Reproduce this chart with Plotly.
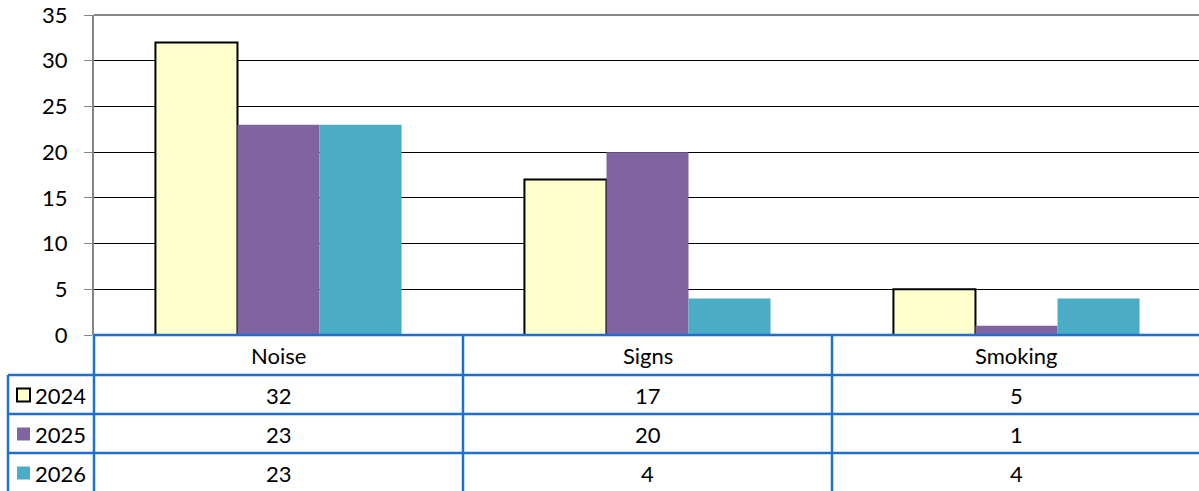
import plotly.graph_objects as go

categories = ["Noise", "Signs", "Smoking"]
series_names = ["2024", "2025", "2026"]
values_2024 = [32, 17, 5]
values_2025 = [23, 20, 1]
values_2026 = [23, 4, 4]
y_ticks = [0, 5, 10, 15, 20, 25, 30, 35]

series_values = [values_2024, values_2025, values_2026]
fill_colors = ["#FFFFCC", "#8064A2", "#4BACC6"]
line_colors = ["#000000", "#8064A2", "#4BACC6"]
line_widths = [2, 0, 0]

W, H = 1199, 491
L, T, B_PX = 94, 15, 335
plot_w = W - L
plot_h = B_PX - T
FONT = "Lato"
FS = 22
BLUE = "#1F6FCF"

fig = go.Figure()
for name, vals, fc, lc, lw in zip(series_names, series_values, fill_colors, line_colors, line_widths):
    fig.add_trace(go.Bar(x=categories, y=vals, name=name,
                         marker=dict(color=fc, line=dict(color=lc, width=lw))))

def px_x(px):
    return (px - L) / plot_w

def px_y(py):
    return (B_PX - py) / plot_h

shapes = []
shapes.append(dict(type="line", xref="paper", yref="paper", x0=0, x1=1, y0=1, y1=1,
                   line=dict(color="#868686", width=2)))
row_edges = [335, 375, 414, 453, 493]
for i, ry in enumerate(row_edges):
    x0 = 0 if i == 0 else px_x(8)
    shapes.append(dict(type="line", xref="paper", yref="paper", x0=x0, x1=1.01,
                       y0=px_y(ry), y1=px_y(ry), line=dict(color=BLUE, width=2.5)))
shapes.append(dict(type="line", xref="paper", yref="paper", x0=0, x1=0,
                   y0=px_y(335), y1=px_y(495), line=dict(color=BLUE, width=2.5)))
shapes.append(dict(type="line", xref="paper", yref="paper", x0=px_x(8), x1=px_x(8),
                   y0=px_y(375), y1=px_y(495), line=dict(color=BLUE, width=2.5)))
for k in range(1, len(categories)):
    shapes.append(dict(type="line", xref="x", yref="paper", x0=k - 0.5, x1=k - 0.5,
                       y0=px_y(335), y1=px_y(495), line=dict(color=BLUE, width=2.5)))

txt_font = dict(family=FONT, size=FS, color="#000000")
annotations = []
for i, c in enumerate(categories):
    annotations.append(dict(x=i, y=px_y(355), xref="x", yref="paper", text=c, showarrow=False,
                            xanchor="center", yanchor="middle", font=txt_font))
row_centers = [395, 434, 473]
for r, (name, vals) in enumerate(zip(series_names, series_values)):
    yc = px_y(row_centers[r])
    for i, v in enumerate(vals):
        annotations.append(dict(x=i, y=yc, xref="x", yref="paper", text=str(v), showarrow=False,
                                xanchor="center", yanchor="middle", font=txt_font))
    annotations.append(dict(x=px_x(33), y=yc, xref="paper", yref="paper", text=name, showarrow=False,
                            xanchor="left", yanchor="middle", font=txt_font))
    shapes.append(dict(type="rect", xref="paper", yref="paper",
                       x0=px_x(17), x1=px_x(30), y0=px_y(row_centers[r] + 6.5), y1=px_y(row_centers[r] - 6.5),
                       fillcolor=fill_colors[r],
                       line=dict(color=line_colors[r], width=2 if r == 0 else 0)))

fig.update_layout(
    width=W, height=H,
    margin=dict(l=L, r=0, t=T, b=H - B_PX, pad=0),
    paper_bgcolor="white", plot_bgcolor="white",
    barmode="group", bargap=0.333, bargroupgap=0,
    showlegend=False,
    font=txt_font,
    xaxis=dict(range=[-0.5, 2.4946], showticklabels=False, showgrid=False, zeroline=False,
               showline=False, fixedrange=True),
    yaxis=dict(range=[0, 35], tickvals=y_ticks, showgrid=True, gridcolor="#000000", gridwidth=1,
               zeroline=False, showline=True, linecolor="#868686", linewidth=2,
               ticks="outside", ticklen=8, tickcolor="#868686", tickwidth=1,
               ticklabelstandoff=12, tickfont=txt_font),
    shapes=shapes, annotations=annotations,
)
fig.write_html("out.html")
